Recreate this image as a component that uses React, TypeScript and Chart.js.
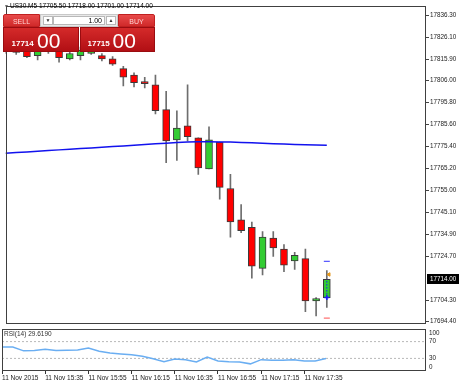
import React, { useEffect, useRef } from "react";
import { Chart, registerables } from "chart.js";

Chart.register(...registerables);

const symbol = "US30.M5";
const headerQuote = ["17705.50", "17718.00", "17701.00", "17714.00"];
const bidBig = ["17714", "00"];
const askBig = ["17715", "00"];
const lotSize = "1.00";

const opens = [
  17822, 17819, 17820.5, 17817.5, 17823, 17819.5, 17816, 17817.5, 17818.5, 17817.5,
  17816, 17811.5, 17808.5, 17805.5, 17804, 17792.5, 17778.5, 17785, 17779.5, 17765,
  17777.5, 17756, 17741.5, 17738, 17719, 17733, 17728, 17722.5, 17723.5, 17704, 17705.5,
];
const highs = [
  17824, 17823, 17823, 17821.5, 17825, 17821.5, 17821, 17821.5, 17822, 17818.5,
  17817, 17812.5, 17809.5, 17807.5, 17808.5, 17801, 17792, 17804, 17779.5, 17784.5,
  17777.5, 17762.5, 17748.5, 17740.5, 17736, 17736, 17730, 17726.5, 17728, 17705.5, 17718,
];
const lows = [
  17818.5, 17818, 17816.5, 17815.5, 17818.5, 17814.5, 17815.5, 17815.5, 17818, 17815,
  17813, 17803.5, 17803, 17802.5, 17790.5, 17768, 17769, 17778, 17762.5, 17765,
  17751, 17733.5, 17735.5, 17714.5, 17716, 17724.5, 17717.5, 17718.5, 17699, 17697, 17701,
];
const closes = [
  17819.5, 17821.5, 17817, 17820.5, 17820, 17816.5, 17818.5, 17820, 17821.5, 17816,
  17813.5, 17807.5, 17805, 17804.5, 17792, 17778, 17784, 17780, 17765.5, 17778.5,
  17756.5, 17740.5, 17736.5, 17720, 17733.5, 17728.5, 17720.5, 17725, 17704, 17705, 17714,
];
const maValues = [
  17772.29, 17772.6, 17772.92, 17773.23, 17773.55, 17773.87, 17774.18, 17774.5, 17774.77, 17775.09,
  17775.4, 17775.72, 17776.03, 17776.35, 17776.67, 17776.98, 17777.25, 17777.52, 17777.61, 17777.61,
  17777.57, 17777.48, 17777.34, 17777.16, 17776.94, 17776.76, 17776.58, 17776.39, 17776.26, 17776.12, 17775.99,
];
const rsiValues = [
  57, 57, 48, 49, 51.5, 49, 49.5, 50, 54.5, 47,
  43, 40.5, 38.5, 35, 29, 22, 28.5, 27, 21.5, 33,
  24, 22, 21.5, 17, 27, 25.5, 25.5, 27, 24, 24, 29.62,
];
const rsiTitle = "RSI(14) 29.6190";
const rsiLevels = [70, 30];
const rsiAxisLabels = [100, 70, 30, 0];
const priceTicks = [
  17836.3, 17826.1, 17815.9, 17806.0, 17795.8, 17785.6, 17775.4, 17765.2,
  17755.0, 17745.1, 17734.9, 17724.7, 17704.3, 17694.4,
];
const timeTickIndex = [0, 4, 8, 12, 16, 20, 24, 28];
const timeTickLabels = [
  "11 Nov 2015", "11 Nov 15:35", "11 Nov 15:55", "11 Nov 16:15",
  "11 Nov 16:35", "11 Nov 16:55", "11 Nov 17:15", "11 Nov 17:35",
];
const orderLevelBlue = 17722.3;
const orderLevelRed = 17696.0;
const entryPrice = 17705.5;
const exitPrice = 17714.0;
const exitMarkX = 30.2;
const exitMarkPrice = 17716.2;

const PRICE_MIN = 17693.5;
const PRICE_MAX = 17840.7;
const SLOT_MAX = 39.26;

const FONT = "'Liberation Sans', Arial, sans-serif";

export default function App() {
  const mainRef = useRef<HTMLCanvasElement | null>(null);
  const rsiRef = useRef<HTMLCanvasElement | null>(null);

  useEffect(() => {
    const n = closes.length;
    const idx = closes.map((_, i) => i);
    const last = n - 1;
    const bodyColors = idx.map((i) => (closes[i] >= opens[i] ? "#33cc33" : "#ff0000"));

    const frame = {
      id: "frame",
      afterDraw(chart: any) {
        const { ctx, chartArea } = chart;
        const l = Math.round(chartArea.left), t = Math.round(chartArea.top);
        const r = Math.round(chartArea.right), b = Math.round(chartArea.bottom);
        ctx.save();
        ctx.strokeStyle = "#404040";
        ctx.lineWidth = 1;
        ctx.strokeRect(l + 0.5, t + 0.5, r - l - 1, b - t - 1);
        ctx.restore();
      },
    };

    const priceTag = {
      id: "priceTag",
      afterDraw(chart: any) {
        const { ctx, chartArea } = chart;
        const y = Math.round(chart.scales.y.getPixelForValue(closes[last]));
        ctx.save();
        ctx.fillStyle = "#000";
        ctx.fillRect(chartArea.right + 1, y - 5, chart.width - chartArea.right - 1, 10);
        ctx.fillStyle = "#fff";
        ctx.font = `6.3px ${FONT}`;
        ctx.textBaseline = "middle";
        ctx.fillText(closes[last].toFixed(2), chartArea.right + 4, y);
        ctx.restore();
      },
    };

    const main = new Chart(mainRef.current as HTMLCanvasElement, {
      type: "bar",
      data: {
        datasets: [
          {
            type: "line",
            label: "trade",
            data: [
              { x: last, y: entryPrice },
              { x: last, y: exitPrice },
            ],
            borderColor: "#2020ff",
            borderWidth: 1,
            borderDash: [1.5, 1.5],
            pointRadius: 0,
            order: 0,
          } as any,
          {
            type: "line",
            label: "entry",
            data: [{ x: last, y: entryPrice }],
            showLine: false,
            pointStyle: "cross",
            pointRadius: 2.5,
            borderColor: "#1a1aff",
            borderWidth: 1.5,
            order: 0,
          } as any,
          {
            type: "line",
            label: "exit",
            data: [{ x: exitMarkX, y: exitMarkPrice }],
            showLine: false,
            pointStyle: "triangle",
            rotation: -90,
            pointRadius: 2,
            backgroundColor: "#f0a020",
            borderColor: "#e09010",
            borderWidth: 1,
            order: 0,
          } as any,
          {
            type: "line",
            label: "levels",
            data: [
              { x: last, y: orderLevelBlue },
            ],
            showLine: false,
            pointStyle: "line",
            pointRadius: 3,
            borderColor: "#3030ff",
            borderWidth: 1,
            order: 0,
          } as any,
          {
            type: "line",
            label: "levels2",
            data: [
              { x: last, y: orderLevelRed },
            ],
            showLine: false,
            pointStyle: "line",
            pointRadius: 3,
            borderColor: "#ff5050",
            borderWidth: 1,
            order: 0,
          } as any,
          {
            type: "line",
            label: "MA",
            data: maValues.map((v, i) => ({ x: i, y: v })),
            borderColor: "#1212ee",
            borderWidth: 1.5,
            pointRadius: 0,
            tension: 0,
            order: 1,
          } as any,
          {
            type: "bar",
            label: "body",
            data: idx.map((i) => ({ x: i, y: [opens[i], closes[i]] })),
            backgroundColor: bodyColors,
            borderColor: "#3a3a3a",
            borderWidth: 1,
            borderSkipped: false,
            barThickness: 7,
            grouped: false,
            order: 2,
          } as any,
          {
            type: "bar",
            label: "wick",
            data: idx.map((i) => ({ x: i, y: [lows[i], highs[i]] })),
            backgroundColor: "#6e6e6e",
            borderWidth: 0,
            barThickness: 1,
            grouped: false,
            order: 3,
          } as any,
        ],
      },
      options: {
        animation: false,
        responsive: false,
        maintainAspectRatio: false,
        devicePixelRatio: 1,
        layout: { padding: { left: 2, top: 1, right: 0, bottom: 2 } },
        plugins: { legend: { display: false }, tooltip: { enabled: false } },
        scales: {
          x: { type: "linear", display: false, min: 0, max: SLOT_MAX, offset: false },
          y: {
            type: "linear",
            position: "right",
            min: PRICE_MIN,
            max: PRICE_MAX,
            afterFit(s: any) {
              s.width = 33;
            },
            afterBuildTicks(s: any) {
              s.ticks = priceTicks.map((v) => ({ value: v }));
            },
            ticks: {
              callback: (v: any) => Number(v).toFixed(2),
              font: { size: 6.3, family: FONT },
              color: "#222",
              padding: 1,
              autoSkip: false,
            },
            grid: { drawOnChartArea: false, drawTicks: true, tickLength: 3, tickColor: "#444" },
            border: { display: false },
          },
        },
      } as any,
      plugins: [frame, priceTag],
    });

    const rsiLabels = {
      id: "rsiLabels",
      afterDraw(chart: any) {
        const { ctx, chartArea } = chart;
        const sc = chart.scales.y;
        ctx.save();
        ctx.fillStyle = "#222";
        ctx.font = `6.3px ${FONT}`;
        ctx.textBaseline = "middle";
        rsiAxisLabels.forEach((v) => {
          let y = sc.getPixelForValue(v);
          y = Math.min(Math.max(y, chartArea.top + 4), chartArea.bottom - 4);
          ctx.fillText(String(v), chartArea.right + 3, y);
        });
        ctx.restore();
      },
    };

    const rsi = new Chart(rsiRef.current as HTMLCanvasElement, {
      type: "line",
      data: {
        datasets: [
          {
            label: "RSI",
            data: rsiValues.map((v, i) => ({ x: i, y: v })),
            borderColor: "#6aaef2",
            borderWidth: 1.5,
            pointRadius: 0,
            tension: 0,
            order: 0,
          },
          ...rsiLevels.map((lv) => ({
            label: "L" + lv,
            data: [
              { x: 0, y: lv },
              { x: SLOT_MAX, y: lv },
            ],
            borderColor: "#b8b8b8",
            borderWidth: 1,
            borderDash: [2, 2],
            pointRadius: 0,
            order: 1,
          })),
        ],
      },
      options: {
        animation: false,
        responsive: false,
        maintainAspectRatio: false,
        devicePixelRatio: 1,
        layout: { padding: { left: 2, top: 2, right: 0, bottom: 0 } },
        plugins: { legend: { display: false }, tooltip: { enabled: false } },
        scales: {
          x: {
            type: "linear",
            min: 0,
            max: SLOT_MAX,
            afterFit(s: any) {
              s.height = 13;
            },
            afterBuildTicks(s: any) {
              s.ticks = timeTickIndex.map((v) => ({ value: v }));
            },
            ticks: {
              callback: (_v: any, i: number) => timeTickLabels[i],
              align: "start",
              maxRotation: 0,
              autoSkip: false,
              font: { size: 6.5, family: FONT },
              color: "#222",
              padding: 0,
            },
            grid: { drawOnChartArea: false, drawTicks: true, tickLength: 3, tickColor: "#333" },
            border: { display: false },
          },
          y: {
            type: "linear",
            position: "right",
            min: 0,
            max: 100,
            afterFit(s: any) {
              s.width = 33;
            },
            ticks: { display: false },
            grid: { display: false },
            border: { display: false },
          },
        },
      } as any,
      plugins: [frame, rsiLabels],
    });

    return () => {
      main.destroy();
      rsi.destroy();
    };
  }, []);

  const txt = (extra: React.CSSProperties): React.CSSProperties => ({
    position: "absolute",
    fontFamily: FONT,
    whiteSpace: "nowrap",
    ...extra,
  });

  const btn: React.CSSProperties = {
    position: "absolute",
    top: 14,
    width: 37,
    height: 13,
    background: "linear-gradient(#e84a4a, #d02a2a)",
    color: "#ffd2d2",
    fontFamily: FONT,
    fontSize: 7,
    lineHeight: "13px",
    textAlign: "center",
    boxSizing: "border-box",
    border: "1px solid #c02020",
  };

  const bigPanel: React.CSSProperties = {
    position: "absolute",
    top: 27,
    height: 25,
    background: "linear-gradient(#d42a2a, #b20f14)",
    border: "1px solid #9a0c10",
    boxSizing: "border-box",
  };

  return (
    <div style={{ position: "absolute", left: 0, top: 0, width: 459, height: 384, background: "#fff", overflow: "hidden" }}>
      <canvas ref={mainRef} width={459} height={329} style={{ position: "absolute", left: 0, top: 0, width: 459, height: 329 }} />
      <canvas ref={rsiRef} width={459} height={57} style={{ position: "absolute", left: 0, top: 327, width: 459, height: 57 }} />

      <div style={txt({ left: 4, top: 3, fontSize: 5, lineHeight: "6px", color: "#444" })}>▼</div>
      <div style={txt({ left: 10, top: 3, fontSize: 6.5, lineHeight: "6.5px", color: "#000" })}>
        {symbol} {headerQuote.join(" ")}
      </div>

      <div style={{ ...btn, left: 3, borderTopLeftRadius: 2 }}>SELL</div>
      <div
        style={{
          position: "absolute",
          left: 40,
          top: 14,
          width: 78,
          height: 13,
          background: "#e9e9e9",
          border: "1px solid #c8c8c8",
          boxSizing: "border-box",
        }}
      />
      <div style={txt({ left: 43, top: 15.5, width: 10, height: 9, background: "#fff", border: "1px solid #b8b8b8", boxSizing: "border-box", fontSize: 5, lineHeight: "7px", textAlign: "center", color: "#333" })}>▼</div>
      <div style={txt({ left: 53, top: 15.5, width: 52, height: 9, background: "#fff", border: "1px solid #b8b8b8", boxSizing: "border-box", fontSize: 7, lineHeight: "7px", textAlign: "right", paddingRight: 2, color: "#000" })}>{lotSize}</div>
      <div style={txt({ left: 106, top: 15.5, width: 10, height: 9, background: "#fff", border: "1px solid #b8b8b8", boxSizing: "border-box", fontSize: 5, lineHeight: "7px", textAlign: "center", color: "#333" })}>▲</div>
      <div style={{ ...btn, left: 118, borderTopRightRadius: 2 }}>BUY</div>

      <div style={{ ...bigPanel, left: 3, width: 76 }} />
      <div style={{ ...bigPanel, left: 80, width: 75 }} />
      <div style={txt({ left: 11.5, top: 40, fontSize: 8, lineHeight: "8px", fontWeight: "bold", color: "#fff" })}>{bidBig[0]}</div>
      <div style={txt({ left: 37, top: 29.5, fontSize: 21, lineHeight: "21px", color: "#fff" })}>{bidBig[1]}</div>
      <div style={txt({ left: 87.5, top: 40, fontSize: 8, lineHeight: "8px", fontWeight: "bold", color: "#fff" })}>{askBig[0]}</div>
      <div style={txt({ left: 112.5, top: 29.5, fontSize: 21, lineHeight: "21px", color: "#fff" })}>{askBig[1]}</div>

      <div style={txt({ left: 4, top: 331, fontSize: 6.5, lineHeight: "6.5px", color: "#333" })}>{rsiTitle}</div>
    </div>
  );
}
